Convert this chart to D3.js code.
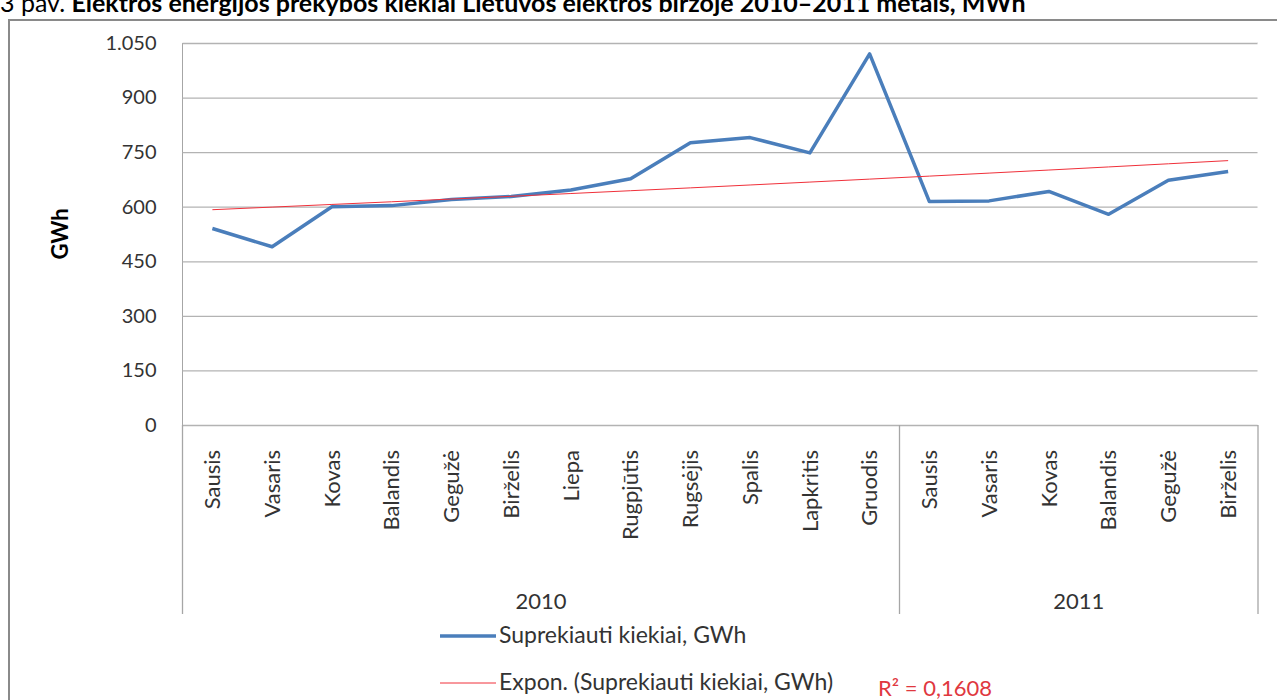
<!DOCTYPE html>
<html>
<head>
<meta charset="utf-8">
<script src="https://cdn.jsdelivr.net/npm/d3@7"></script>
<style>
  body { margin: 0; background: #ffffff; }
  svg { display: block; font-family: Lato, "Open Sans", sans-serif; }
</style>
</head>
<body>
<div id="vis"></div>
<script>
// data
const YEARS = ["2010", "2011"];
const MONTHS_2010 = ["Sausis", "Vasaris", "Kovas", "Balandis", "Gegužė", "Birželis",
                     "Liepa", "Rugpjūtis", "Rugsėjis", "Spalis", "Lapkritis", "Gruodis"];
const MONTHS_2011 = ["Sausis", "Vasaris", "Kovas", "Balandis", "Gegužė", "Birželis"];
const VALUES_2010 = [540, 490, 600, 603, 620, 628, 646, 677, 776, 790, 748, 1020];
const VALUES_2011 = [614, 616, 642, 579, 673, 697];
const Y_TICKS = [0, 150, 300, 450, 600, 750, 900, 1050];
const SERIES_NAME = "Suprekiauti kiekiai, GWh";
const TREND_NAME = "Expon. (Suprekiauti kiekiai, GWh)";
const R2_LABEL = "R² = 0,1608";

const FRAME_WIDTH = 1277;
const FRAME_HEIGHT = 700;
const PLOT = {left: 182.5, right: 1258, top: 43, bottom: 425};
const CAT_BOTTOM = 614;
const TEXT_COLOR = "#333333";

// build one row per month, keeping the year
const data = [];
MONTHS_2010.forEach((m, i) => data.push({year: "2010", month: m, value: VALUES_2010[i]}));
MONTHS_2011.forEach((m, i) => data.push({year: "2011", month: m, value: VALUES_2011[i]}));
data.forEach((d, i) => { d.key = i; });

const FRAME = d3.select("#vis")
                .append("svg")
                  .attr("width", FRAME_WIDTH)
                  .attr("height", FRAME_HEIGHT);

// title, cut at the top as in the page
const title = FRAME.append("text")
                   .attr("x", 0)
                   .attr("y", 12)
                   .attr("font-size", "25px")
                   .attr("fill", "#000");
title.append("tspan").text("3 pav. ");
title.append("tspan").attr("font-weight", "bold")
     .text("Elektros energijos prekybos kiekiai Lietuvos elektros biržoje 2010–2011 metais, MWh");

// chart frame
FRAME.append("rect")
     .attr("x", 9).attr("y", 20)
     .attr("width", 1300).attr("height", 720)
     .attr("fill", "none")
     .attr("stroke", "#8a8a8a")
     .attr("stroke-width", 2);

const X_SCALE = d3.scaleBand()
                  .domain(data.map((d) => d.key))
                  .range([PLOT.left, PLOT.right]);

const Y_SCALE = d3.scaleLinear()
                  .domain([0, 1050])
                  .range([PLOT.bottom, PLOT.top]);

const fmt = (v) => v >= 1000 ? d3.format(",")(v).replace(",", ".") : String(v);

// gridlines + y labels
const yAxis = FRAME.append("g")
                   .attr("transform", "translate(" + PLOT.left + ",0)")
                   .call(d3.axisLeft(Y_SCALE)
                           .tickValues(Y_TICKS)
                           .tickSize(-(PLOT.right - PLOT.left))
                           .tickPadding(26)
                           .tickFormat(fmt));
yAxis.select(".domain").attr("stroke", "#a6a6a6").attr("d",
      "M0," + PLOT.top + "V" + CAT_BOTTOM);
yAxis.selectAll(".tick line").attr("stroke", "#b3b3b3").attr("stroke-width", 1.3);
yAxis.selectAll(".tick text")
     .attr("font-size", "20px")
     .attr("font-family", "Lato, sans-serif")
     .attr("fill", TEXT_COLOR);

FRAME.append("text")
     .attr("transform", "translate(68," + ((PLOT.top + PLOT.bottom) / 2) + ") rotate(-90)")
     .attr("text-anchor", "middle")
     .attr("font-size", "22px")
     .attr("font-weight", "bold")
     .attr("fill", "#000")
     .text("GWh");

// category axis: months rotated, years below
const xAxis = FRAME.append("g")
                   .attr("transform", "translate(0," + PLOT.bottom + ")")
                   .call(d3.axisBottom(X_SCALE).tickSize(0).tickFormat((k) => data[k].month));
xAxis.select(".domain").remove();
xAxis.selectAll(".tick text")
     .attr("font-size", "22px")
     .attr("font-family", "Lato, sans-serif")
     .attr("fill", TEXT_COLOR)
     .attr("text-anchor", "end")
     .attr("transform", "rotate(-90)")
     .attr("x", -25)
     .attr("y", 0)
     .attr("dy", "0.35em");

// year dividers
const yearEdges = [PLOT.left, X_SCALE(MONTHS_2010.length), PLOT.right];
FRAME.selectAll(".divider")
     .data(yearEdges)
     .enter()
     .append("line")
       .attr("x1", (d) => d).attr("x2", (d) => d)
       .attr("y1", PLOT.bottom).attr("y2", CAT_BOTTOM)
       .attr("stroke", "#a6a6a6")
       .attr("stroke-width", 1.3);

FRAME.append("line")
     .attr("x1", PLOT.right).attr("x2", PLOT.right)
     .attr("y1", PLOT.top).attr("y2", PLOT.bottom)
     .attr("stroke", "#ffffff");

FRAME.selectAll(".year")
     .data(YEARS)
     .enter()
     .append("text")
       .attr("x", (d, i) => (yearEdges[i] + yearEdges[i + 1]) / 2)
       .attr("y", 609)
       .attr("text-anchor", "middle")
       .attr("font-size", "22px")
       .attr("fill", TEXT_COLOR)
       .text((d) => d);

// exponential trend fitted on the series (least squares on log values)
const xs = data.map((d, i) => i + 1);
const ls = data.map((d) => Math.log(d.value));
const mx = d3.mean(xs), ml = d3.mean(ls);
const b = d3.sum(xs, (x, i) => (x - mx) * (ls[i] - ml)) / d3.sum(xs, (x) => (x - mx) * (x - mx));
const a = Math.exp(ml - b * mx);

const cx = (d) => X_SCALE(d.key) + X_SCALE.bandwidth() / 2;

FRAME.append("path")
     .datum(data)
     .attr("fill", "none")
     .attr("stroke", "#4a7ebb")
     .attr("stroke-width", 3.5)
     .attr("stroke-linejoin", "round")
     .attr("d", d3.line().x(cx).y((d) => Y_SCALE(d.value)));

FRAME.append("path")
     .datum(data)
     .attr("fill", "none")
     .attr("stroke", "#f0303a")
     .attr("stroke-width", 1)
     .attr("d", d3.line().x(cx).y((d, i) => Y_SCALE(a * Math.exp(b * (i + 1)))));

// legend
const LEGEND = [
  {name: SERIES_NAME, color: "#4a7ebb", width: 3.5, y: 636},
  {name: TREND_NAME, color: "#f0303a", width: 1, y: 683}
];
const leg = FRAME.selectAll(".legend")
                 .data(LEGEND)
                 .enter()
                 .append("g");
leg.append("line")
   .attr("x1", 440).attr("x2", 496)
   .attr("y1", (d) => d.y).attr("y2", (d) => d.y)
   .attr("stroke", (d) => d.color)
   .attr("stroke-width", (d) => d.width);
leg.append("text")
   .attr("x", 499)
   .attr("y", (d) => d.y + 7)
   .attr("font-size", "23px")
   .attr("fill", TEXT_COLOR)
   .text((d) => d.name);

FRAME.append("text")
     .attr("x", 878)
     .attr("y", 696)
     .attr("font-size", "22px")
     .attr("fill", "#e0383f")
     .text(R2_LABEL);
</script>
</body>
</html>
